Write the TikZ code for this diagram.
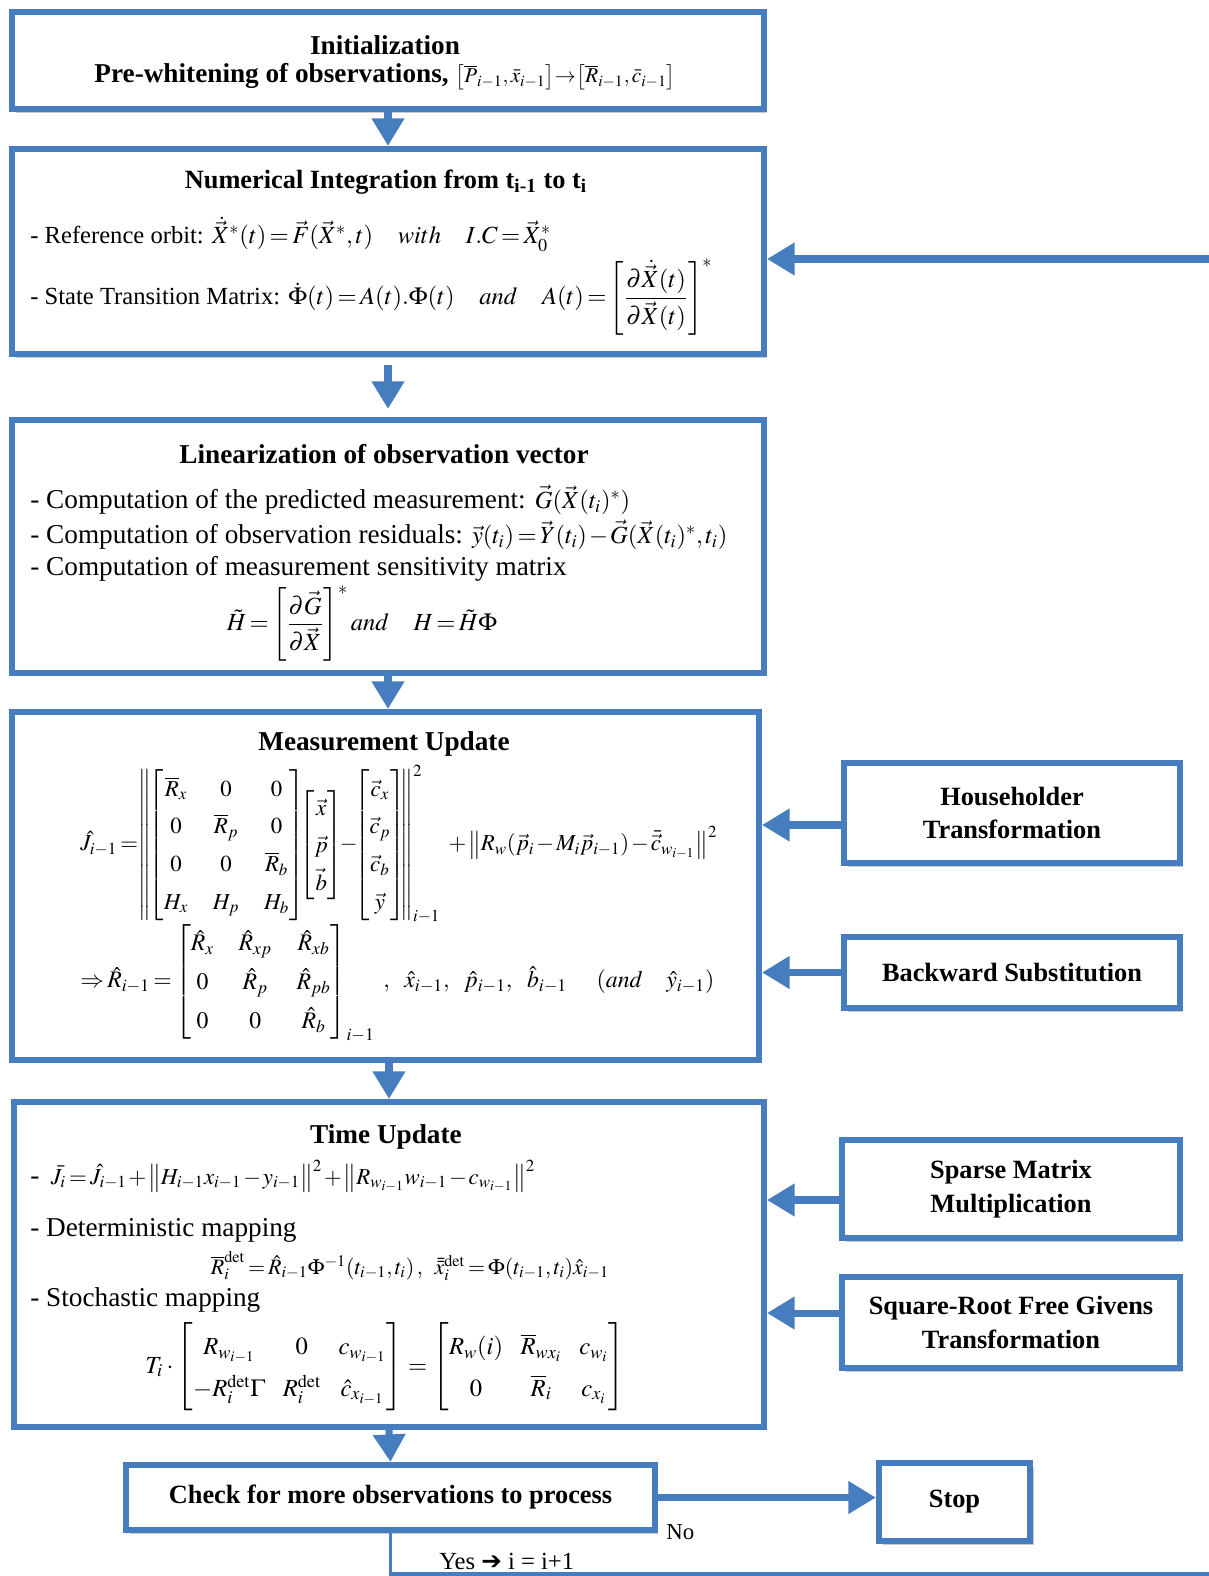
\documentclass[tikz,border=0pt]{standalone}
\usepackage{amsmath}
\usepackage{mathptmx}
\usepackage[no-math]{fontspec}
\setmainfont{Liberation Serif}
\newfontfamily\dingfont{DejaVu Sans}
\usetikzlibrary{arrows.meta,shadows}
\definecolor{flowblue}{RGB}{70,125,190}
\newcommand{\tightmath}{\medmuskip=1.5mu plus 1mu\relax\thickmuskip=2.5mu plus 1mu\relax}
\newcommand{\measmath}{\renewcommand{\arraystretch}{1.3}\setlength{\arraycolsep}{7pt}}
\newcommand{\stochmath}{\renewcommand{\arraystretch}{1.4}}
\tikzset{
  stepbox/.style={draw=flowblue, line width=3.5pt, fill=white, rectangle, inner sep=0pt,
    drop shadow={shadow xshift=2pt, shadow yshift=-2pt, opacity=0.35, fill=black!60}},
  sidebox/.style={stepbox, font=\fontsize{15}{19}\selectfont\bfseries, align=center},
  flowarrow/.style={draw=flowblue, line width=4pt, -{Triangle[width=0.62cm,length=0.55cm]}},
  loopline/.style={draw=flowblue, line width=2pt},
  bodytext/.style={anchor=west, inner sep=0pt, font=\fontsize{15.5}{18}\selectfont\tightmath},
  titletext/.style={inner sep=0pt, font=\fontsize{15.5}{18}\selectfont\bfseries},
  eqtext/.style={inner sep=0pt, font=\fontsize{14}{17}\selectfont\tightmath},
}
\begin{document}
\begin{tikzpicture}[x=0.02cm, y=-0.02cm]
    \useasboundingbox (0,0) rectangle (1209,1576);

    % Main column
    \node[stepbox, minimum width=15.04cm, minimum height=1.94cm] (init) at (388,60.5) {};
    \node[titletext] (initT) at (385,45) {Initialization};
    \node[titletext] (initL) at (385,77) {Pre-whitening of observations, {\fontsize{12}{14}\selectfont\tightmath$\left[\overline{P}_{i-1},\bar{x}_{i-1}\right]\!\rightarrow\!\left[\overline{R}_{i-1},\bar{c}_{i-1}\right]$}};

    \node[stepbox, minimum width=15.04cm, minimum height=4.1cm] (numint) at (388,251.5) {};
    \node[titletext, font=\fontsize{15}{18}\selectfont\bfseries] (numintT) at (386,182) {Numerical Integration from t$_{\mathbf{i\text{-}1}}$ to t$_{\mathbf{i}}$};
    \node[bodytext, font=\fontsize{14}{17}\selectfont\tightmath] (numintA) at (30,234) {- Reference orbit: $\dot{\vec{X}}^{*}(t)=\vec{F}(\vec{X}^{*},t)\quad with\quad I.C=\vec{X}_0^{*}$};
    \node[bodytext, font=\fontsize{14}{17}\selectfont\tightmath] (numintB) at (30,297) {- State Transition Matrix: $\dot{\Phi}(t)=A(t).\Phi(t)\quad and\quad A(t)=\left[\dfrac{\partial\dot{\vec{X}}(t)}{\partial\vec{X}(t)}\right]^{*}$};

    \node[stepbox, minimum width=15.04cm, minimum height=5.06cm] (linear) at (388,546.5) {};
    \node[titletext] (linearT) at (384,454) {Linearization of observation vector};
    \node[bodytext] (linearA) at (30,500) {- Computation of the predicted measurement: {\fontsize{14}{17}\selectfont$\vec{G}(\vec{X}(t_i)^{*})$}};
    \node[bodytext] (linearB) at (30,535) {- Computation of observation residuals: {\fontsize{14}{17}\selectfont$\vec{y}(t_i)=\vec{Y}(t_i)-\vec{G}(\vec{X}(t_i)^{*},t_i)$}};
    \node[bodytext] (linearC) at (30,569) {- Computation of measurement sensitivity matrix};
    \node[eqtext] (linearD) at (362,624) {$\tilde{H}=\left[\dfrac{\partial\vec{G}}{\partial\vec{X}}\right]^{*}and\quad H=\tilde{H}\Phi$};

    \node[stepbox, minimum width=14.94cm, minimum height=6.96cm] (meas) at (385.5,886) {};
    \node[titletext] (measT) at (384,744) {Measurement Update};
    \node[eqtext, anchor=west, font=\fontsize{13}{16.5}\selectfont\tightmath\measmath] (measA) at (80,844)
      {$\hat{J}_{i-1}=\!\left\|\!\begin{bmatrix}\overline{R}_x&0&0\\0&\overline{R}_p&0\\0&0&\overline{R}_b\\H_x&H_p&H_b\end{bmatrix}\!\!\!\begin{bmatrix}\vec{x}\\\vec{p}\\\vec{b}\end{bmatrix}\!\!-\!\!\begin{bmatrix}\vec{c}_x\\\vec{c}_p\\\vec{c}_b\\\vec{y}\end{bmatrix}\!\!\right\|^{2}_{i-1}\;\;+\left\|R_w\!\left(\vec{p}_i-M_i\vec{p}_{i-1}\right)-\bar{\vec{c}}_{w_{i-1}}\right\|^{2}$};
    \node[eqtext, anchor=west, font=\fontsize{13.5}{17}\selectfont\tightmath\measmath] (measB) at (80,983)
      {$\Rightarrow\hat{R}_{i-1}=\begin{bmatrix}\hat{R}_x&\hat{R}_{xp}&\hat{R}_{xb}\\0&\hat{R}_p&\hat{R}_{pb}\\0&0&\hat{R}_b\end{bmatrix}_{i-1}\ ,\ \ \hat{x}_{i-1},\ \ \hat{p}_{i-1},\ \ \hat{b}_{i-1}\quad\ (and\quad\hat{y}_{i-1})$};

    \node[stepbox, minimum width=15cm, minimum height=6.5cm] (timeup) at (389,1264.5) {};
    \node[titletext] (timeupT) at (386,1137) {Time Update};
    \node[bodytext] (timeupA) at (30,1176) {- \,{\fontsize{13}{16}\selectfont$\bar{J}_i=\hat{J}_{i-1}+\big\|H_{i-1}x_{i-1}-y_{i-1}\big\|^{2}+\big\|R_{w_{i-1}}w_{i-1}-c_{w_{i-1}}\big\|^{2}$}};
    \node[bodytext] (timeupB) at (30,1230) {- Deterministic mapping};
    \node[eqtext, font=\fontsize{12.5}{15}\selectfont\tightmath] (timeupC) at (410,1266) {$\overline{R}_i^{\mathrm{det}}=\hat{R}_{i-1}\Phi^{-1}\!\left(t_{i-1},t_i\right),\;\;\;\bar{\bar{x}}_i^{\mathrm{det}}=\Phi(t_{i-1},t_i)\hat{x}_{i-1}$};
    \node[bodytext] (timeupD) at (30,1300) {- Stochastic mapping};
    \node[eqtext, font=\fontsize{14}{17}\selectfont\stochmath] (timeupE) at (385,1367) {$T_i\cdot\begin{bmatrix}R_{w_{i-1}}&0&c_{w_{i-1}}\\-R_i^{\mathrm{det}}\Gamma&R_i^{\mathrm{det}}&\hat{c}_{x_{i-1}}\end{bmatrix}=\begin{bmatrix}R_w(i)&\overline{R}_{wx_i}&c_{w_i}\\0&\overline{R}_i&c_{x_i}\end{bmatrix}$};

    \node[sidebox, minimum width=10.58cm, minimum height=1.3cm] (check) at (390.5,1497.5) {Check for more observations to process};
    \node[sidebox, minimum width=3.02cm, minimum height=1.56cm] (stop) at (954.5,1502) {Stop};

    % Side operations
    \node[sidebox, minimum width=6.72cm, minimum height=2cm] (house) at (1012,813) {Householder\\Transformation};
    \node[sidebox, minimum width=6.72cm, minimum height=1.42cm] (backw) at (1012,972.5) {Backward Substitution};
    \node[sidebox, minimum width=6.76cm, minimum height=1.96cm] (sparse) at (1011,1189) {Sparse Matrix\\Multiplication};
    \node[sidebox, minimum width=6.76cm, minimum height=1.82cm] (sqroot) at (1011,1322.5) {Square-Root Free Givens\\Transformation};

    % Flow arrows
    \draw[flowarrow] (init) -- (numint);
    \draw[flowarrow, shorten <=0.16cm, shorten >=0.16cm] (numint) -- (linear);
    \draw[flowarrow] (linear.south) -- (linear.south |- meas.north);
    \draw[flowarrow] (timeup.north |- meas.south) -- (timeup.north);
    \draw[flowarrow] (timeup.south) -- (check.north);
    \draw[flowarrow] (check.east) -- (check.east -| stop.west);

    \draw[flowarrow] ([yshift=-0.24cm]house.west) -- ([yshift=-0.24cm]house.west -| meas.east);
    \draw[flowarrow] (backw.west) -- (backw.west -| meas.east);
    \draw[flowarrow] ([yshift=-0.22cm]sparse.west) -- ([yshift=-0.22cm]sparse.west -| timeup.east);
    \draw[flowarrow] ([yshift=0.19cm]sqroot.west) -- ([yshift=0.19cm]sqroot.west -| timeup.east);

    % Loop back
    \coordinate (loopB) at (1215,1574);
    \coordinate (loopR) at (1215,259);
    \draw[loopline] (check.south) -- (check.south |- loopB) -- (loopB) -- (loopR);
    \draw[flowarrow] (loopR) -- (loopR -| numint.east);
    \node[bodytext, font=\fontsize{13}{15}\selectfont] (noL) at (666,1532) {No};
    \node[bodytext, font=\fontsize{14}{16}\selectfont] (yesL) at (439,1561) {Yes {\dingfont ➔} i = i+1};
\end{tikzpicture}
\end{document}
